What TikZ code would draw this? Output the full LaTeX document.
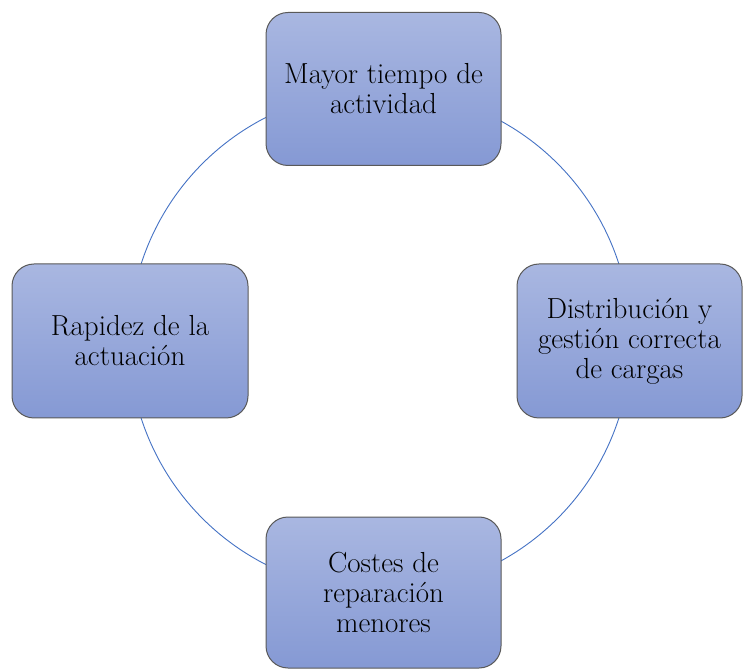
\documentclass[tikz,border=0pt]{standalone}
\usepackage{fontspec}
\begin{document}
\begin{tikzpicture}[x=1pt,y=1pt,
  box/.style={draw=black!65, line width=1pt, rounded corners=22pt,
    top color=boxtop, bottom color=boxbot, align=center,
    font=\fontsize{29}{30}\selectfont, text=black, inner sep=0pt},
  cyc/.style={draw=cycblue, line width=0.9pt}]
\definecolor{boxtop}{HTML}{A9B7E1}
\definecolor{boxbot}{HTML}{8599D4}
\definecolor{cycblue}{HTML}{4472C4}
\useasboundingbox (0,0) rectangle (743,669);
\coordinate (ctr) at (380,328);
\draw[cyc] (ctr) ++(15:251) arc[start angle=15, end angle=65, radius=251];
\draw[cyc] (ctr) ++(115:251) arc[start angle=115, end angle=165, radius=251];
\draw[cyc] (ctr) ++(195:251) arc[start angle=195, end angle=245, radius=251];
\draw[cyc] (ctr) ++(295:251) arc[start angle=295, end angle=345, radius=251];
\node[box, minimum width=235pt, minimum height=153pt] (top) at (383.5,580) {Mayor tiempo de\\actividad};
\node[box, minimum width=225pt, minimum height=154pt] (right) at (629.5,328) {Distribución y\\gestión correcta\\de cargas};
\node[box, minimum width=236pt, minimum height=154pt] (left) at (130,328) {Rapidez de la\\actuación};
\node[box, minimum width=235pt, minimum height=151pt] (bottom) at (383.5,76.5) {Costes de\\reparación\\menores};
\end{tikzpicture}
\end{document}
